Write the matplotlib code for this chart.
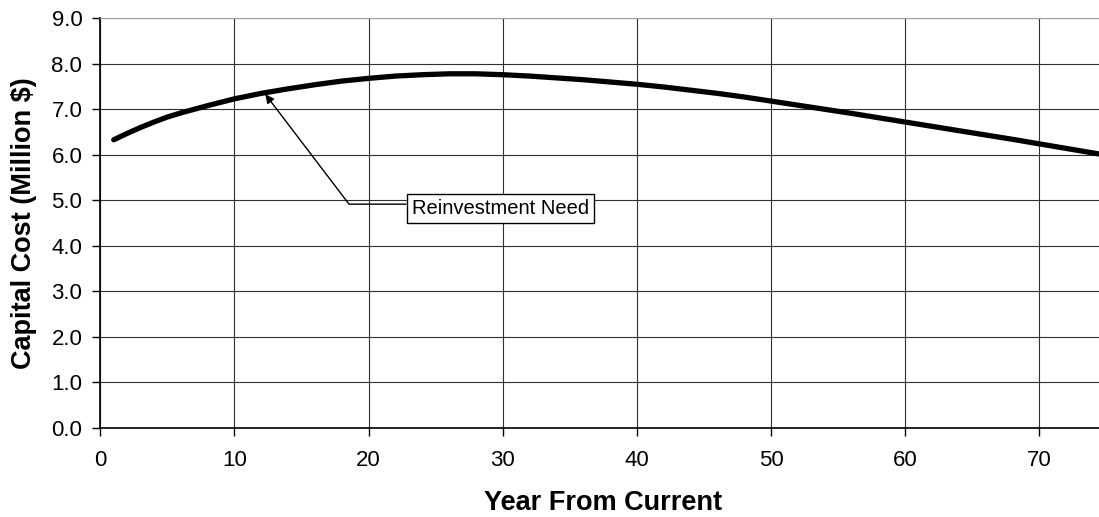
import matplotlib.pyplot as plt

plt.rcParams['font.family'] = ['Liberation Sans', 'DejaVu Sans']

# Reinvestment need by year (million $)
years = [1, 2, 3, 4, 5, 6, 7, 8, 10, 12, 14, 16, 18, 20, 22, 24, 26, 28, 30,
         32, 34, 36, 38, 40, 42, 44, 46, 48, 50, 52, 54, 56, 58, 60, 62, 64,
         66, 68, 70, 72, 74, 75]
cost = [6.33, 6.47, 6.60, 6.72, 6.83, 6.92, 7.00, 7.08, 7.23, 7.35, 7.45,
        7.54, 7.62, 7.68, 7.73, 7.76, 7.78, 7.78, 7.76, 7.73, 7.69, 7.65,
        7.60, 7.55, 7.49, 7.42, 7.35, 7.27, 7.18, 7.09, 7.00, 6.91, 6.815,
        6.72, 6.625, 6.53, 6.435, 6.34, 6.24, 6.14, 6.04, 5.99]

x_ticks = [0, 10, 20, 30, 40, 50, 60, 70]
y_ticks = [0, 1, 2, 3, 4, 5, 6, 7, 8, 9]

fig = plt.figure(figsize=(10.99, 5.17), dpi=100)
ax = fig.add_axes([0.0913, 0.1727, 0.9154, 0.7919])

ax.plot(years, cost, color='black', linewidth=3.8, solid_capstyle='round',
        solid_joinstyle='round', zorder=3)

ax.set_xlim(0, 75)
ax.set_ylim(0, 9)
ax.set_xticks(x_ticks)
ax.set_yticks(y_ticks)
ax.set_yticklabels([f'{v:.1f}' for v in y_ticks])
ax.tick_params(axis='both', labelsize=16, length=6, width=1, direction='out',
               colors='black')
ax.tick_params(axis='x', pad=10)
ax.tick_params(axis='y', pad=7)

ax.grid(True, color='#303030', linewidth=0.8)
ax.set_axisbelow(True)
ax.spines['right'].set_visible(False)
ax.spines['top'].set_color('#a0a0a0')
ax.spines['left'].set_linewidth(1.2)
ax.spines['bottom'].set_linewidth(1.2)

ax.set_xlabel('Year From Current', fontsize=19.5, fontweight='bold', labelpad=14)
ax.set_ylabel('Capital Cost (Million $)', fontsize=19.5, fontweight='bold', labelpad=10)

ax.annotate('Reinvestment Need', xy=(12.3, 7.33), xytext=(23.2, 4.81),
            fontsize=14.5, ha='left', va='center',
            bbox=dict(boxstyle='square,pad=0.25', facecolor='white',
                      edgecolor='black', linewidth=1),
            arrowprops=dict(arrowstyle='-|>', color='black', linewidth=1,
                            mutation_scale=13, shrinkA=0, shrinkB=0, relpos=(0, 0.75),
                            connectionstyle='angle,angleA=180,angleB=-52.7,rad=0'))

fig.savefig('out.png', dpi=100)
